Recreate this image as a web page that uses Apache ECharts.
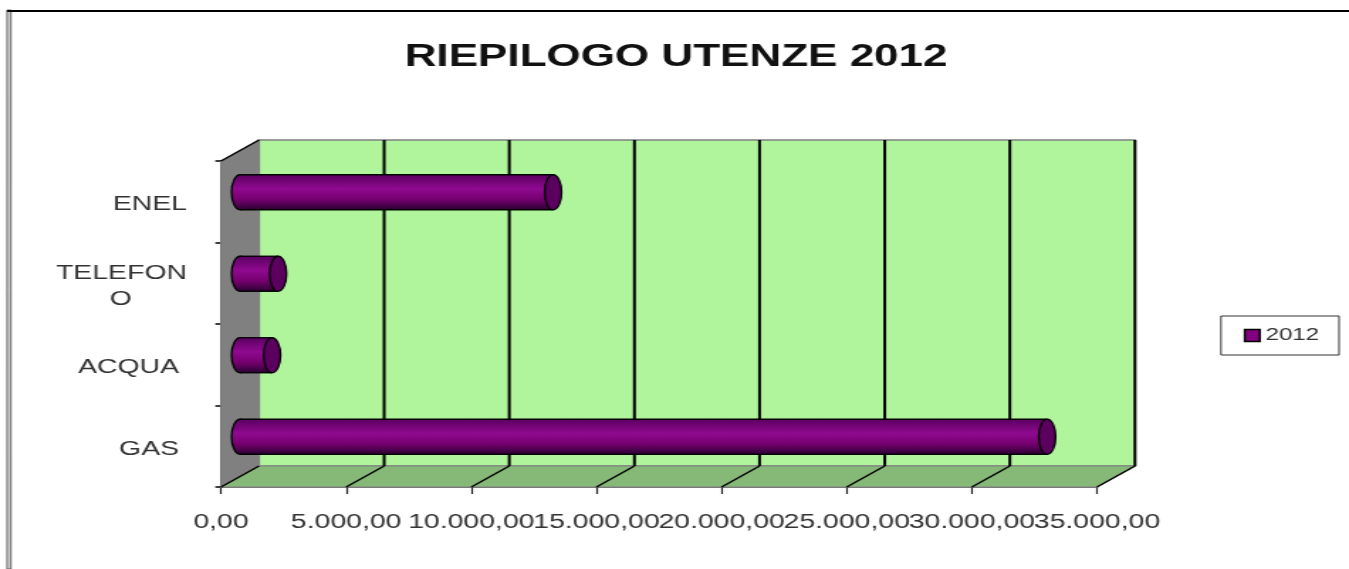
<!DOCTYPE html>
<html>
<head>
<meta charset="utf-8">
<title>Riepilogo utenze 2012</title>
<script src="https://cdn.jsdelivr.net/npm/echarts@6/dist/echarts.min.js"></script>
<style>
html, body { margin: 0; background: #fff; overflow: hidden; }
/* the reference is a picture stretched sideways, so the whole chart is stretched too */
#main { width: 950px; height: 569px; transform-origin: 0 0; transform: scaleX(1.42); }
</style>
</head>
<body>
<div id="main"></div>
<script>
const categories = ['GAS\u00a0', 'ACQUA\u00a0', 'TELEFONO', 'ENEL']
const values2012 = [32250, 1280, 1520, 12510]
const tickValues = [0, 5000, 10000, 15000, 20000, 25000, 30000, 35000]
const tickLabels = ['0,00', '5.000,00', '10.000,00', '15.000,00', '20.000,00', '25.000,00', '30.000,00', '35.000,00']

const S = 1.42
const depthX = 38 / S
const depthY = 21
const capRx = 8.5 / S

const chart = echarts.init(document.getElementById('main'), null, { renderer: 'canvas' })

// back wall, side wall, floor, grid lines and value labels, all offset from the front plane
function renderBox(params, api) {
  const grid = params.coordSys
  const xMin = grid.x
  const xMax = grid.x + grid.width
  const yTop = grid.y
  const yBottom = grid.y + grid.height
  const wallLine = { stroke: '#808080', lineWidth: 1 }
  const children = [
    { type: 'polygon', shape: { points: [[xMin + depthX, yTop - depthY], [xMax + depthX, yTop - depthY], [xMax + depthX, yBottom - depthY], [xMin + depthX, yBottom - depthY]] },
      style: { fill: '#b0f49c', stroke: '#808080', lineWidth: 1.5 } },
    { type: 'polygon', shape: { points: [[xMin, yTop], [xMin + depthX, yTop - depthY], [xMin + depthX, yBottom - depthY], [xMin, yBottom]] },
      style: Object.assign({ fill: '#808080' }, wallLine) },
    { type: 'polygon', shape: { points: [[xMin, yBottom], [xMin + depthX, yBottom - depthY], [xMax + depthX, yBottom - depthY], [xMax, yBottom]] },
      style: Object.assign({ fill: '#86b878' }, wallLine) },
    { type: 'line', shape: { x1: xMin, y1: yTop, x2: xMin + depthX, y2: yTop - depthY }, style: { stroke: '#000', lineWidth: 1.5 } }
  ]
  tickValues.forEach(function(v, i) {
    const x = api.coord([v, 0])[0]
    if (i > 0) {
      children.push({ type: 'line', shape: { x1: x + depthX, y1: yTop - depthY, x2: x + depthX, y2: yBottom - depthY }, style: { stroke: '#000', lineWidth: 2 } })
    }
    children.push({ type: 'line', shape: { x1: x, y1: yBottom, x2: x + depthX, y2: yBottom - depthY }, style: { stroke: '#000', lineWidth: 1.5 } })
    // the axis drops its last label when neighbours overlap, the reference keeps them all
    children.push({ type: 'text', x: x, y: yBottom + 35, style: {
      text: tickLabels[i], textAlign: 'center', textVerticalAlign: 'middle',
      fontFamily: 'Liberation Sans', fontSize: 20, fill: '#333'
    } })
  })
  return { type: 'group', children: children }
}

// one lying cylinder per category
function renderCylinder(params, api) {
  const start = api.coord([0, api.value(1)])
  const end = api.coord([api.value(0), api.value(1)])
  const h = api.size([0, 1])[1] * 0.43
  const cy = start[1] - depthY / 2 + 1
  const x0 = start[0] + depthX / 2
  const x1 = end[0] + depthX / 2
  const fill = new echarts.graphic.LinearGradient(0, 0, 0, 1, [
    { offset: 0, color: '#5a0060' },
    { offset: 0.4, color: '#8f0a90' },
    { offset: 0.7, color: '#760070' },
    { offset: 1, color: '#2a0030' }
  ])
  const outline = { stroke: '#000', lineWidth: 1.3 }
  return {
    type: 'group',
    children: [
      { type: 'ellipse', shape: { cx: x0, cy: cy, rx: capRx, ry: h / 2 }, style: Object.assign({ fill: fill }, outline) },
      { type: 'rect', shape: { x: x0, y: cy - h / 2, width: x1 - x0, height: h }, style: { fill: fill } },
      { type: 'line', shape: { x1: x0, y1: cy - h / 2, x2: x1, y2: cy - h / 2 }, style: outline },
      { type: 'line', shape: { x1: x0, y1: cy + h / 2, x2: x1, y2: cy + h / 2 }, style: outline },
      { type: 'ellipse', shape: { cx: x1, cy: cy, rx: capRx, ry: h / 2 }, style: Object.assign({ fill: '#5c0060' }, outline) }
    ]
  }
}

chart.setOption({
  animation: false,
  backgroundColor: '#fff',
  textStyle: { fontFamily: 'Liberation Sans' },
  title: {
    text: 'RIEPILOGO UTENZE 2012',
    left: 669 / S,
    top: 37,
    textAlign: 'center',
    textStyle: { fontFamily: 'Liberation Sans', fontSize: 31, fontWeight: 'bold', color: '#111' }
  },
  legend: {
    data: ['2012'],
    left: 1221 / S,
    top: 316,
    orient: 'vertical',
    padding: [11, 14, 11, 16],
    itemWidth: 15 / S,
    itemHeight: 12,
    itemGap: 0,
    borderColor: '#333',
    borderWidth: 1,
    icon: 'rect',
    itemStyle: { color: '#800080', borderColor: '#000', borderWidth: 1.5 },
    textStyle: { fontFamily: 'Liberation Sans', fontSize: 17, color: '#333', padding: [0, 0, 0, -1] }
  },
  grid: { left: 221 / S, top: 161, width: 876 / S, height: 326, containLabel: false },
  xAxis: {
    type: 'value',
    min: 0,
    max: 35000,
    interval: 5000,
    splitLine: { show: false },
    axisLine: { show: true, lineStyle: { color: '#444', width: 1.5 } },
    axisTick: { show: true, length: 7, lineStyle: { color: '#222', width: 1.2 } },
    axisLabel: { show: false }
  },
  yAxis: {
    type: 'category',
    data: categories,
    splitLine: { show: false },
    axisLine: { show: true, lineStyle: { color: '#000', width: 2 } },
    axisTick: { show: true, length: 4, lineStyle: { color: '#000', width: 1.5 } },
    axisLabel: {
      margin: 24,
      formatter: function(name) {
        // the long name wraps as in the reference, second line sits mid label
        if (name.length > 7) {
          return '{a|' + name.slice(0, 7) + '}\n{a|' + name.slice(7) + '\u00a0'.repeat(7) + '}'
        }
        return '{a|' + name + '}'
      },
      rich: {
        a: { fontFamily: 'Liberation Sans', fontSize: 20, lineHeight: 26, padding: [6, 0, 0, 0], color: '#333' }
      }
    }
  },
  graphic: [
    { type: 'rect', shape: { x: 7 / S, y: 10, width: 4 / S, height: 559 }, style: { fill: '#cfcfcf', stroke: '#333', lineWidth: 0.7 }, silent: true },
    { type: 'rect', shape: { x: 7 / S, y: 10, width: 1349 / S, height: 2 }, style: { fill: '#000' }, silent: true }
  ],
  series: [
    { type: 'custom', name: 'box', silent: true, z: 1, renderItem: renderBox, data: [[0, 0]], encode: { x: 0, y: 1 } },
    { type: 'custom', name: '2012', z: 5, renderItem: renderCylinder, data: values2012.map(function(v, i) { return [v, i] }), encode: { x: 0, y: 1 },
      itemStyle: { color: '#800080' } }
  ]
})
</script>
</body>
</html>
